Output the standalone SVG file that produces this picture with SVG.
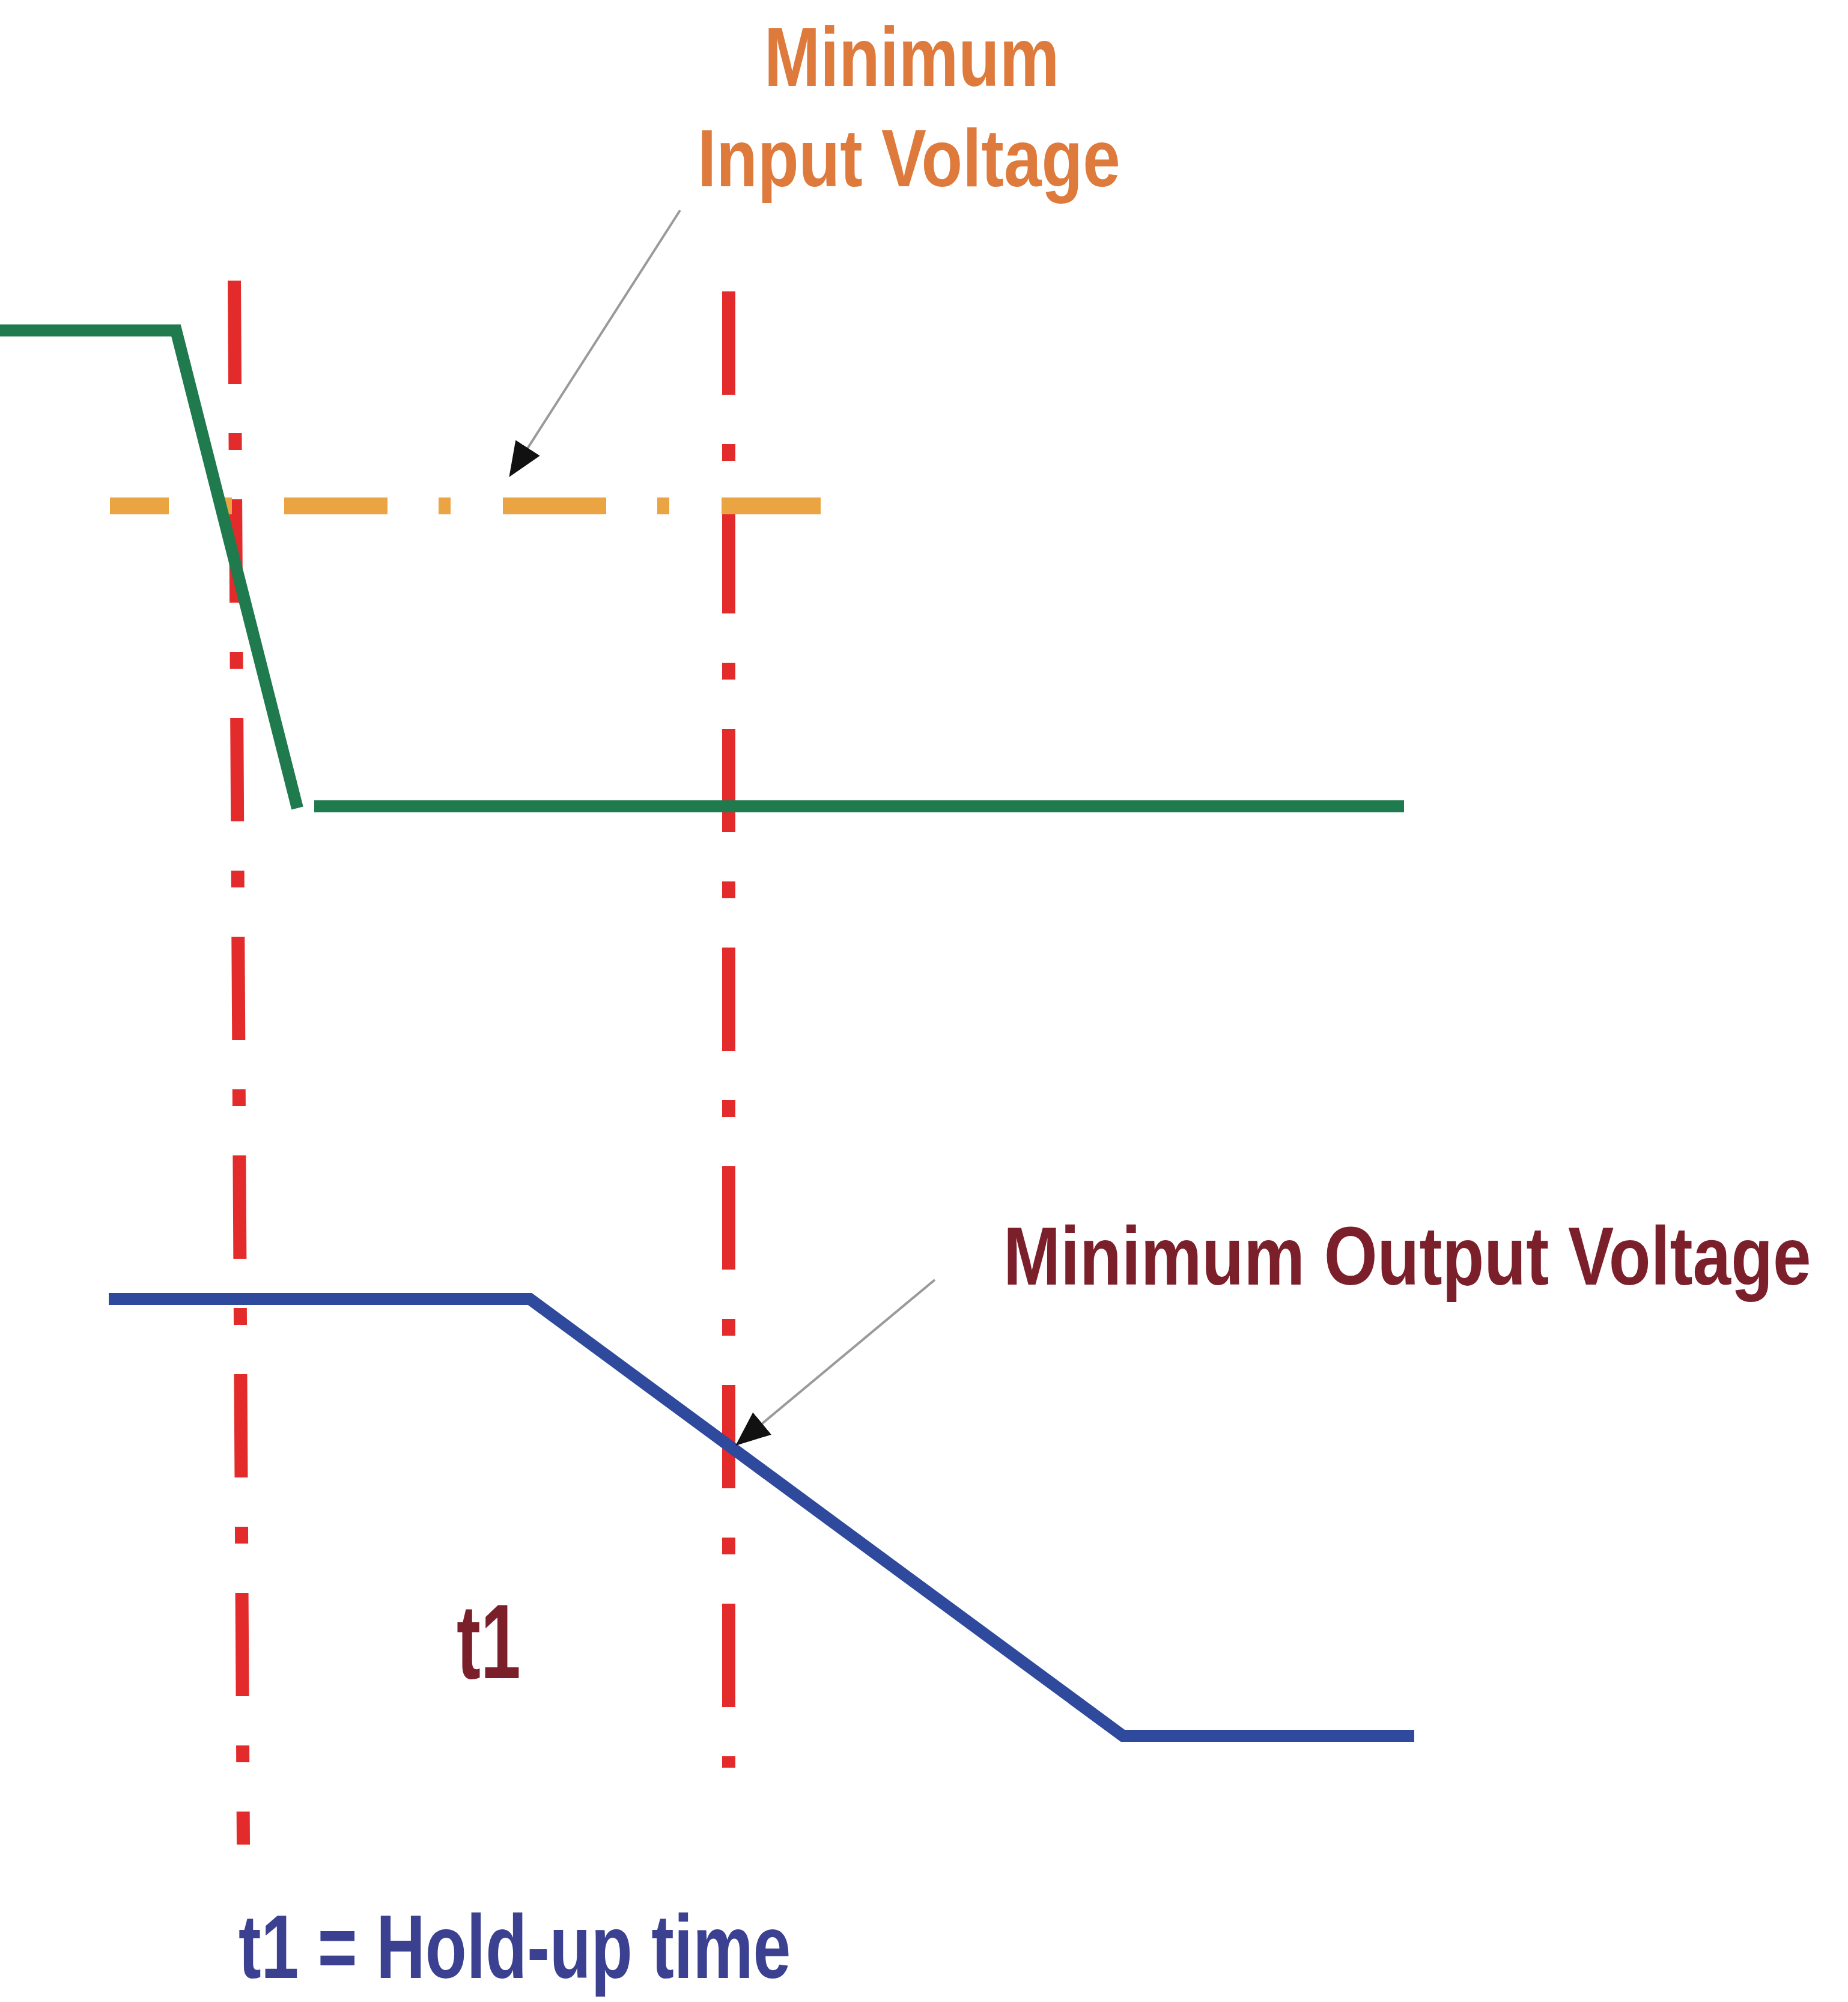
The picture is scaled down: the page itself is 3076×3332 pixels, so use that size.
<svg xmlns="http://www.w3.org/2000/svg" width="3076" height="3332" viewBox="0 0 3076 3332">
  <style>
    .marker-line { fill: none; stroke: #e42b2b; stroke-width: 22; stroke-dasharray: 172 82 28 82; }
    .threshold { fill: none; stroke: #eba442; stroke-width: 28; stroke-dasharray: 172 85 20 87; stroke-dashoffset: 74; }
    .vin { fill: none; stroke: #1f7a4d; stroke-width: 20; stroke-linejoin: miter; }
    .vout { fill: none; stroke: #2f4a9c; stroke-width: 20; stroke-linejoin: miter; }
    .callout { fill: none; stroke: #9a9a9a; stroke-width: 4; }
    .lbl { font-family: "Liberation Sans", Arial, sans-serif; font-weight: bold; }
    .orange { fill: #dd7a3c; }
    .maroon { fill: #7b1f2a; }
    .indigo { fill: #3b4190; }
  </style>
  <defs>
    <marker id="arrow" viewBox="0 0 12 10" refX="11" refY="5" markerWidth="58" markerHeight="48" markerUnits="userSpaceOnUse" orient="auto">
      <path d="M0,0 L12,5 L0,10 Z" fill="#111"/>
    </marker>
  </defs>
  <rect width="3076" height="3332" fill="#ffffff"/>

  <g id="time-markers">
    <line id="t-start" class="marker-line" x1="390" y1="467" x2="405" y2="3070"/>
    <line id="t-end" class="marker-line" x1="1213" y1="485" x2="1213" y2="2942"/>
  </g>

  <g id="input-threshold">
    <line class="threshold" x1="183" y1="842" x2="1366" y2="842"/>
  </g>

  <g id="input-voltage">
    <path class="vin" d="M0,550 L293,550 L495,1345"/>
    <line class="vin" x1="523" y1="1342" x2="2337" y2="1342"/>
  </g>

  <g id="output-voltage">
    <path class="vout" d="M181,2162 L882,2162 L1869,2889 L2354,2889"/>
  </g>

  <g id="connectors">
    <line class="callout" x1="1132" y1="350" x2="850" y2="790" marker-end="url(#arrow)"/>
    <line class="callout" x1="1556" y1="2130" x2="1228" y2="2403" marker-end="url(#arrow)"/>
  </g>

  <g id="label-min-input">
    <text class="lbl orange" transform="translate(1272,143) scale(0.8,1)" font-size="140" textLength="614" lengthAdjust="spacingAndGlyphs">Minimum</text>
    <text class="lbl orange" transform="translate(1161,310) scale(0.823,1)" font-size="135" textLength="855" lengthAdjust="spacingAndGlyphs">Input Voltage</text>
  </g>

  <g id="label-min-output">
    <text class="lbl maroon" transform="translate(1670,2138) scale(0.83,1)" font-size="137" textLength="1620" lengthAdjust="spacingAndGlyphs">Minimum Output Voltage</text>
  </g>

  <g id="label-t1">
    <text class="lbl maroon" transform="translate(760,2793) scale(0.684,1)" font-size="176" textLength="156" lengthAdjust="spacingAndGlyphs">t1</text>
  </g>

  <g id="label-holdup">
    <text class="lbl indigo" transform="translate(397,3292) scale(0.753,1)" font-size="150" textLength="1221" lengthAdjust="spacingAndGlyphs">t1 = Hold-up time</text>
  </g>
</svg>
